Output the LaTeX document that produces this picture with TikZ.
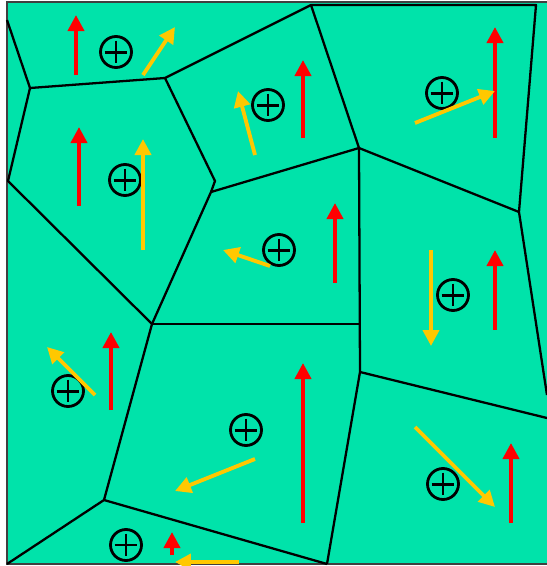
\documentclass[tikz,border=0pt]{standalone}
\usetikzlibrary{arrows.meta}
\definecolor{cellgreen}{RGB}{0,227,170}
\definecolor{flowgold}{RGB}{255,200,0}
\tikzset{
    wall/.style={draw=black, line width=1.3pt, line join=round},
    frame/.style={draw=black!75, line width=1.5pt},
    spin/.style={draw=red, line width=2.2pt, -{Triangle[length=0.32cm, width=0.32cm]}},
    flow/.style={draw=flowgold, line width=2.2pt, -{Triangle[length=0.32cm, width=0.32cm]}},
    charge/.style={
        circle, draw=black, line width=1.6pt,
        minimum size=0.62cm, inner sep=0pt,
        path picture={
            \draw[line width=1.7pt]
                ([yshift=-2.4pt]path picture bounding box.north) -- ([yshift=2.4pt]path picture bounding box.south)
                ([xshift=2.4pt]path picture bounding box.west) -- ([xshift=-2.4pt]path picture bounding box.east);
        }
    }
}

\begin{document}
\begin{tikzpicture}[x=0.02cm, y=-0.02cm]
\useasboundingbox (0,0) rectangle (547,566);

% Box
\fill[cellgreen] (7,2) rectangle (547,564);
\draw[frame] (547,2) -- (7,2) -- (7,564) -- (547,564);

% Voronoi vertices
\coordinate (a) at (30,88);
\coordinate (b) at (165,78);
\coordinate (c) at (311,5);
\coordinate (d) at (215,181);
\coordinate (e) at (211,192);
\coordinate (f) at (8,181);
\coordinate (g) at (152,324);
\coordinate (h) at (359,148);
\coordinate (i) at (519,212);
\coordinate (j) at (536,5);
\coordinate (k) at (360,372);
\coordinate (n) at (359,324);
\coordinate (o) at (104,500);
\coordinate (m) at (327,564);

% Cell walls
\draw[wall] (7,20) -- (a) -- (b) -- (c) -- (j) -- (i) -- (547,395);
\draw[wall] (a) -- (f) -- (g) -- (o) -- (7,564);
\draw[wall] (b) -- (d) -- (e) -- (g);
\draw[wall] (e) -- (h) -- (i);
\draw[wall] (c) -- (h) -- (k) -- (m);
\draw[wall] (k) -- (547,418);
\draw[wall] (g) -- (n);
\draw[wall] (o) -- (m);

% Charges
\node[charge] (q1) at (116,52) {};
\node[charge] (q2) at (125,180) {};
\node[charge] (q3) at (268,105) {};
\node[charge] (q4) at (442,93) {};
\node[charge] (q5) at (279,250) {};
\node[charge] (q6) at (453,295) {};
\node[charge] (q7) at (68,391) {};
\node[charge] (q8) at (246,430) {};
\node[charge] (q9) at (443,484) {};
\node[charge] (q10) at (126,545) {};

% Red arrows
\draw[spin] (76,75) -- (76,15);
\draw[spin] (79,206) -- (79,127);
\draw[spin] (303,138) -- (303,60);
\draw[spin] (495,138) -- (495,27);
\draw[spin] (335,283) -- (335,203);
\draw[spin] (495,330) -- (495,250);
\draw[spin] (111,410) -- (111,332);
\draw[spin] (303,523) -- (303,363);
\draw[spin] (511,523) -- (511,443);
\draw[spin] (172,555) -- (172,532);

% Yellow arrows
\draw[flow] (143,75) -- (175,27);
\draw[flow] (143,250) -- (143,139);
\draw[flow] (255,155) -- (238,91);
\draw[flow] (415,123) -- (495,91);
\draw[flow] (270,266) -- (223,250);
\draw[flow] (431,250) -- (431,346);
\draw[flow] (95,395) -- (47,347);
\draw[flow] (255,459) -- (175,491);
\draw[flow] (415,427) -- (495,507);
\draw[flow] (239,562) -- (175,562);

\end{tikzpicture}
\end{document}
